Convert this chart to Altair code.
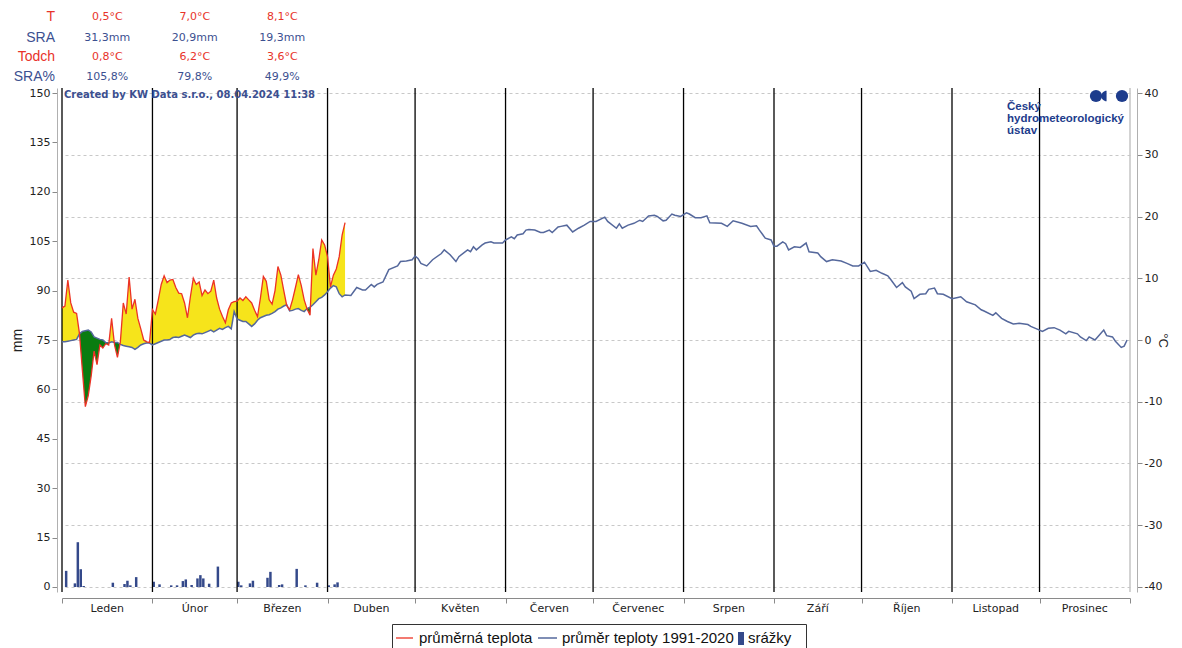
import altair as alt
import pandas as pd

# ---------------- data ----------------
months = ["Leden", "Únor", "Březen", "Duben", "Květen", "Červen", "Červenec",
          "Srpen", "Září", "Říjen", "Listopad", "Prosinec"]
month_start = [0, 31, 60, 91, 121, 152, 182, 213, 244, 274, 305, 335]
year_end = 366

# 2024 daily mean temperature, day 0 = 1 January (°C)
temp_2024 = [5.2, 5.5, 9.7, 6.0, 4.5, 4.3, 1.0, -5.0, -10.8, -9.0,
             -5.8, -1.8, -4.0, -0.8, -1.3, -0.6, -0.8, 3.5, -0.8, -2.8,
             -0.3, 6.0, 4.2, 10.2, 5.0, 6.6, 3.5, 1.8, 0.0, -0.3,
             -0.4,
             4.9, 4.2, 6.5, 9.0, 10.4, 9.3, 9.7, 9.8, 8.5, 7.6,
             7.5, 6.0, 3.6, 7.0, 10.0, 9.0, 9.4, 7.2, 8.1, 7.5,
             7.9, 9.7, 6.8, 5.0, 3.8, 2.8, 4.9, 6.0, 6.2,
             6.3, 6.8, 6.4, 7.0, 6.5, 6.0, 4.8, 3.8, 6.8, 10.3,
             9.5, 6.5, 5.8, 8.0, 11.9, 10.5, 8.0, 5.6, 4.9, 6.5,
             8.5, 10.6, 8.8, 6.5, 5.0, 4.0, 14.8, 10.5, 13.0, 16.2,
             15.4, 13.5, 8.6, 10.5, 11.5, 13.5, 17.0, 19.0]

# normal 1991-2020, daily for days 0..97
norm_early = [-0.3, -0.3, -0.2, -0.1, 0.0, 0.1, 1.0, 1.4, 1.5, 1.6,
              1.3, 0.5, 0.3, 0.1, 0.0, -0.4, -0.5, -0.3, -0.4, -0.4,
              -0.7, -0.9, -1.0, -1.1, -1.2, -1.5, -1.2, -0.8, -0.6, -0.5,
              -0.5,
              -0.8, -0.6, -0.4, -0.2, 0.0, 0.0, 0.1, 0.4, 0.5, 0.4,
              0.6, 0.8, 0.6, 0.4, 0.8, 1.0, 1.1, 1.0, 1.2, 1.4,
              1.6, 1.3, 1.6, 1.9, 1.7, 2.0, 2.2, 1.8, 4.6,
              3.4, 3.2, 3.0, 3.0, 2.6, 2.2, 2.6, 3.2, 3.6, 3.8,
              4.0, 4.1, 4.3, 4.6, 5.0, 5.2, 5.5, 5.7, 4.7, 4.8,
              5.0, 5.1, 4.8, 4.6, 5.1, 5.3, 5.7, 6.2, 6.7, 6.9,
              7.3, 7.8, 8.4, 8.8, 8.6, 7.5, 7.0, 7.3]

# normal 1991-2020, rest of the year (day, °C)
norm_late_day = [99, 101, 103, 104, 106, 107, 108, 110, 112, 115, 116, 118, 120, 121, 122, 123,
                 125, 127, 130, 131, 133, 135, 136, 139, 140, 141, 142, 144, 145, 147, 148, 151,
                 152, 154, 155, 156, 158, 159, 160, 162, 164, 165, 167, 168, 170, 171, 173, 175,
                 177, 179, 181, 183, 186, 187, 190, 191, 192, 194, 196, 198, 199, 201, 203, 204,
                 206, 207, 209, 210, 212, 214, 215, 217, 219, 221, 222, 226, 228, 230, 233, 236,
                 238, 239, 241, 243, 244, 245, 247, 248, 249, 251, 253, 255, 256, 259, 260, 262,
                 264, 267, 269, 271, 273, 275, 277, 279, 281, 283, 284, 286, 288, 289, 291, 292,
                 294, 296, 297, 299, 300, 302, 305, 307, 308, 310, 313, 315, 316, 319, 320, 322,
                 324, 326, 328, 331, 332, 334, 336, 338, 340, 342, 344, 345, 348, 349, 351, 352,
                 354, 357, 358, 360, 361, 363, 364, 365]
norm_late_temp = [7.2, 8.5, 8.1, 8.1, 9.0, 8.6, 9.0, 9.4, 11.4, 12.0, 12.7, 12.8, 13.0, 13.6, 13.2, 12.4,
                  12.0, 13.0, 14.0, 14.6, 13.8, 12.7, 13.5, 14.6, 14.3, 15.1, 14.6, 15.4, 15.7, 15.9, 15.7, 15.7,
                  16.2, 16.7, 16.4, 17.0, 17.2, 17.8, 17.9, 17.8, 17.4, 17.4, 17.8, 17.4, 18.3, 18.4, 18.6, 17.5,
                  18.1, 18.6, 19.2, 19.2, 19.9, 19.2, 18.1, 18.8, 18.1, 18.6, 18.9, 19.4, 19.2, 20.1, 20.2, 20.0,
                  19.3, 19.4, 20.4, 20.2, 20.0, 20.6, 20.4, 19.8, 19.8, 20.1, 19.0, 18.9, 18.4, 19.3, 18.9, 18.4,
                  18.5, 17.8, 16.5, 16.2, 15.2, 15.2, 15.9, 15.6, 14.6, 15.1, 15.0, 15.7, 14.3, 14.1, 13.5, 12.7,
                  13.0, 12.8, 12.4, 12.0, 12.0, 12.6, 11.1, 11.3, 10.8, 10.4, 9.8, 8.5, 9.3, 8.6, 7.9, 6.7,
                  7.4, 7.5, 8.2, 8.4, 7.5, 7.4, 6.7, 6.9, 7.0, 6.2, 5.7, 4.9, 4.7, 4.0, 4.4, 3.5,
                  3.0, 2.6, 2.7, 2.5, 2.2, 1.8, 1.4, 1.9, 2.0, 1.6, 1.0, 1.4, 1.0, 0.5, -0.1, 0.5,
                  0.0, 1.6, 0.7, 0.5, -0.2, -1.2, -1.0, 0.0]

# daily precipitation 2024 (day, mm)
precip_day = [1, 4, 5, 6, 7, 17, 21, 22, 23, 25, 31, 33, 37, 39, 41, 42, 44, 46, 47, 48,
              50, 53, 60, 61, 64, 65, 70, 71, 74, 75, 80, 83, 87, 91, 93, 94]
precip_mm = [4.9, 1.1, 13.6, 5.4, 0.3, 1.3, 0.9, 1.9, 0.5, 3.0, 1.6, 0.8, 0.5, 0.5, 1.8, 2.3, 0.6, 2.6, 3.6, 2.6,
             1.0, 6.2, 1.6, 0.5, 1.1, 1.9, 2.8, 4.6, 0.6, 0.8, 5.5, 0.5, 1.3, 0.5, 0.8, 1.4]

# header statistics (Jan, Feb, Mar)
stat_labels = ["T", "SRA", "Todch", "SRA%"]
stat_jan = ["0,5°C", "31,3mm", "0,8°C", "105,8%"]
stat_feb = ["7,0°C", "20,9mm", "6,2°C", "79,8%"]
stat_mar = ["8,1°C", "19,3mm", "3,6°C", "49,9%"]

legend_labels = ["průměrná teplota", "průměr teploty 1991-2020", "srážky"]
credit = "Created by KW Data s.r.o., 08.04.2024 11:38"
logo_lines = ["Český", "hydrometeorologický", "ústav"]

# ---------------- styling ----------------
RED = "#ec3225"
NORM = "#55689c"
BAR = "#34498a"
YELLOW = "#f6e41b"
GREEN = "#0a7c10"
TRED = "#e8332a"
TBLUE = "#3c5090"
LOGO = "#1d3c8c"

W, H = 1068, 504
TDOM = [-40.81, 40.81]
MDOM = [-1.52, 151.52]

xscale = alt.Scale(domain=[0, year_end], nice=False, zero=False)
xaxis = alt.Axis(values=month_start + [year_end], labels=False, title=None, grid=False,
                 orient="bottom", offset=6, tickSize=5, domainColor="#8a8a8a",
                 tickColor="#8a8a8a")


def X(field="day"):
    return alt.X(f"{field}:Q", scale=xscale, axis=xaxis)


tscale = alt.Scale(domain=TDOM, nice=False, zero=False)
mscale = alt.Scale(domain=MDOM, nice=False, zero=False)

# ---------------- tables ----------------
n_obs = len(temp_2024)
days = list(range(n_obs))

# area rows with exact crossing points between observed and normal
rows = []
for i in range(n_obs):
    t0, n0 = temp_2024[i], norm_early[i]
    rows.append((float(i), t0, n0))
    if i < n_obs - 1:
        t1, n1 = temp_2024[i + 1], norm_early[i + 1]
        d0, d1 = t0 - n0, t1 - n1
        if d0 * d1 < 0:
            f = d0 / (d0 - d1)
            v = n0 + f * (n1 - n0)
            rows.append((i + f, v, v))
area_df = pd.DataFrame(rows, columns=["day", "t", "n"])
area_df["hi"] = area_df[["t", "n"]].max(axis=1)
area_df["lo"] = area_df[["t", "n"]].min(axis=1)

obs_df = pd.DataFrame({"day": days, "t": temp_2024})
norm_df = pd.DataFrame({"day": days + norm_late_day,
                        "n": norm_early + norm_late_temp})
bar_df = pd.DataFrame({"day": precip_day, "mm": precip_mm})
bar_df["day2"] = bar_df["day"] + 0.85
rule_df = pd.DataFrame({"day": month_start})
edge_df = pd.DataFrame({"day": [year_end]})
mid = [(month_start[k] + (month_start[k + 1] if k < 11 else year_end)) / 2 for k in range(12)]
mlab_df = pd.DataFrame({"day": mid, "name": months})

row_py = [-71, -50, -31, -11]
row_col = [TRED, TBLUE, TRED, TBLUE]
hdr = []
for k in range(4):
    for m, col in zip(range(3), [stat_jan, stat_feb, stat_mar]):
        hdr.append({"day": mid[m], "py": row_py[k], "txt": col[k], "c": row_col[k]})
hdr_df = pd.DataFrame(hdr)
lab_df = pd.DataFrame({"py": row_py, "txt": stat_labels, "c": row_col})
logo_df = pd.DataFrame({"py": [19, 31, 43], "txt": logo_lines})
one = pd.DataFrame({"a": [0]})

# ---------------- layers ----------------
yellow = alt.Chart(area_df).mark_area(color=YELLOW, opacity=1, strokeWidth=0).encode(
    x=X(), y=alt.Y("hi:Q", scale=tscale, axis=None), y2="n:Q")
green = alt.Chart(area_df).mark_area(color=GREEN, opacity=1, strokeWidth=0).encode(
    x=X(), y=alt.Y("lo:Q", scale=tscale, axis=None), y2="n:Q")

bars = alt.Chart(bar_df).mark_rect(color=BAR).encode(
    x=X(), x2="day2:Q",
    y=alt.Y("mm:Q", scale=mscale,
            axis=alt.Axis(orient="left", values=list(range(0, 151, 15)), title="mm",
                          grid=False, offset=5, tickSize=5, labelPadding=2,
                          domainColor="#b0b0b0", tickColor="#8a8a8a",
                          labelFont="DejaVu Sans", labelFontSize=11, labelColor="#222",
                          titleFont="Liberation Sans", titleFontSize=14,
                          titleFontWeight="normal", titleColor="#222", titlePadding=5)),
    y2=alt.datum(0))

rules = alt.Chart(rule_df).mark_rule(color="black", strokeWidth=1.3).encode(x=X())
edge = alt.Chart(edge_df).mark_rule(color="#c4c4c4", strokeWidth=1.5).encode(x=X())

norm_line = alt.Chart(norm_df).mark_line(color=NORM, strokeWidth=1.5).encode(
    x=X(), y=alt.Y("n:Q", scale=tscale, axis=None))

obs_line = alt.Chart(obs_df).mark_line(color=RED, strokeWidth=1.3).encode(
    x=X(),
    y=alt.Y("t:Q", scale=tscale,
            axis=alt.Axis(orient="right", values=list(range(-40, 41, 10)), title="°C",
                          grid=True, gridDash=[3, 3], gridColor="#c8c8c8", offset=7,
                          tickSize=5, labelPadding=2, domainColor="#b0b0b0",
                          tickColor="#8a8a8a", labelExpr="'' + datum.value",
                          labelFont="DejaVu Sans", labelFontSize=11, labelColor="#222",
                          titleFont="Liberation Sans", titleFontSize=13,
                          titleFontWeight="normal", titleColor="#222", titlePadding=-6)))

mlabels = alt.Chart(mlab_df).mark_text(font="DejaVu Sans", fontSize=11, color="#222",
                                       baseline="middle").encode(
    x=X(), y=alt.value(521), text="name:N")

hdr_vals = alt.Chart(hdr_df).mark_text(font="DejaVu Sans", fontSize=11, baseline="middle").encode(
    x=X(), y=alt.Y("py:Q", scale=None), text="txt:N", color=alt.Color("c:N", scale=None))
hdr_labs = alt.Chart(lab_df).mark_text(font="Liberation Sans", fontSize=14, align="right",
                                       baseline="middle").encode(
    x=alt.value(-7), y=alt.Y("py:Q", scale=None), text="txt:N",
    color=alt.Color("c:N", scale=None))

credit_t = alt.Chart(one).mark_text(font="DejaVu Sans", fontSize=10, fontWeight="bold",
                                    color=TBLUE, align="left", baseline="middle").encode(
    x=alt.value(2), y=alt.value(7), text=alt.value(credit))

logo_t = alt.Chart(logo_df).mark_text(font="Liberation Sans", fontSize=11.5, fontWeight="bold",
                                      color=LOGO, align="left", baseline="middle").encode(
    x=alt.value(945), y=alt.Y("py:Q", scale=None), text="txt:N")
dot1 = alt.Chart(one).mark_point(shape="circle", filled=True, color=LOGO, size=150, opacity=1).encode(
    x=alt.value(1034), y=alt.value(8))
dot2 = alt.Chart(one).mark_point(shape="M 0.3 -1 A 1 1 0 0 0 0.3 1 Z", filled=True, color=LOGO,
                                 size=110, opacity=1).encode(x=alt.value(1043), y=alt.value(8))
dot3 = alt.Chart(one).mark_point(shape="circle", filled=True, color=LOGO, size=150, opacity=1).encode(
    x=alt.value(1060), y=alt.value(8))

# manual legend
leg_box = alt.Chart(one).mark_rect(fill="white", stroke="#333", strokeWidth=1).encode(
    x=alt.value(330.5), x2=alt.value(744.5), y=alt.value(536.5), y2=alt.value(575))
leg_r1 = alt.Chart(one).mark_rule(color=RED, strokeWidth=1.3).encode(
    x=alt.value(334), x2=alt.value(351), y=alt.value(550))
leg_t1 = alt.Chart(one).mark_text(font="Liberation Sans", fontSize=15, color="#111", align="left",
                                  baseline="middle").encode(
    x=alt.value(357), y=alt.value(550), text=alt.value(legend_labels[0]))
leg_r2 = alt.Chart(one).mark_rule(color=NORM, strokeWidth=1.5).encode(
    x=alt.value(476), x2=alt.value(495), y=alt.value(550))
leg_t2 = alt.Chart(one).mark_text(font="Liberation Sans", fontSize=15, color="#111", align="left",
                                  baseline="middle").encode(
    x=alt.value(500), y=alt.value(550), text=alt.value(legend_labels[1]))
leg_b = alt.Chart(one).mark_rect(color=BAR).encode(
    x=alt.value(676), x2=alt.value(682), y=alt.value(544), y2=alt.value(557))
leg_t3 = alt.Chart(one).mark_text(font="Liberation Sans", fontSize=15, color="#111", align="left",
                                  baseline="middle").encode(
    x=alt.value(686), y=alt.value(550), text=alt.value(legend_labels[2]))

chart = alt.layer(
    bars, yellow, green, rules, edge, norm_line, obs_line, mlabels,
    hdr_vals, hdr_labs, credit_t, logo_t, dot1, dot2, dot3,
    leg_box, leg_r1, leg_t1, leg_r2, leg_t2, leg_b, leg_t3
).resolve_scale(y="independent").properties(
    width=W, height=H,
    padding={"left": 54, "top": 80, "right": 44, "bottom": 70},
    autosize=alt.AutoSizeParams(type="none"),
    background="white"
).configure_view(stroke=None)

chart.save("out.html", embed_options={"renderer": "svg", "actions": False})
